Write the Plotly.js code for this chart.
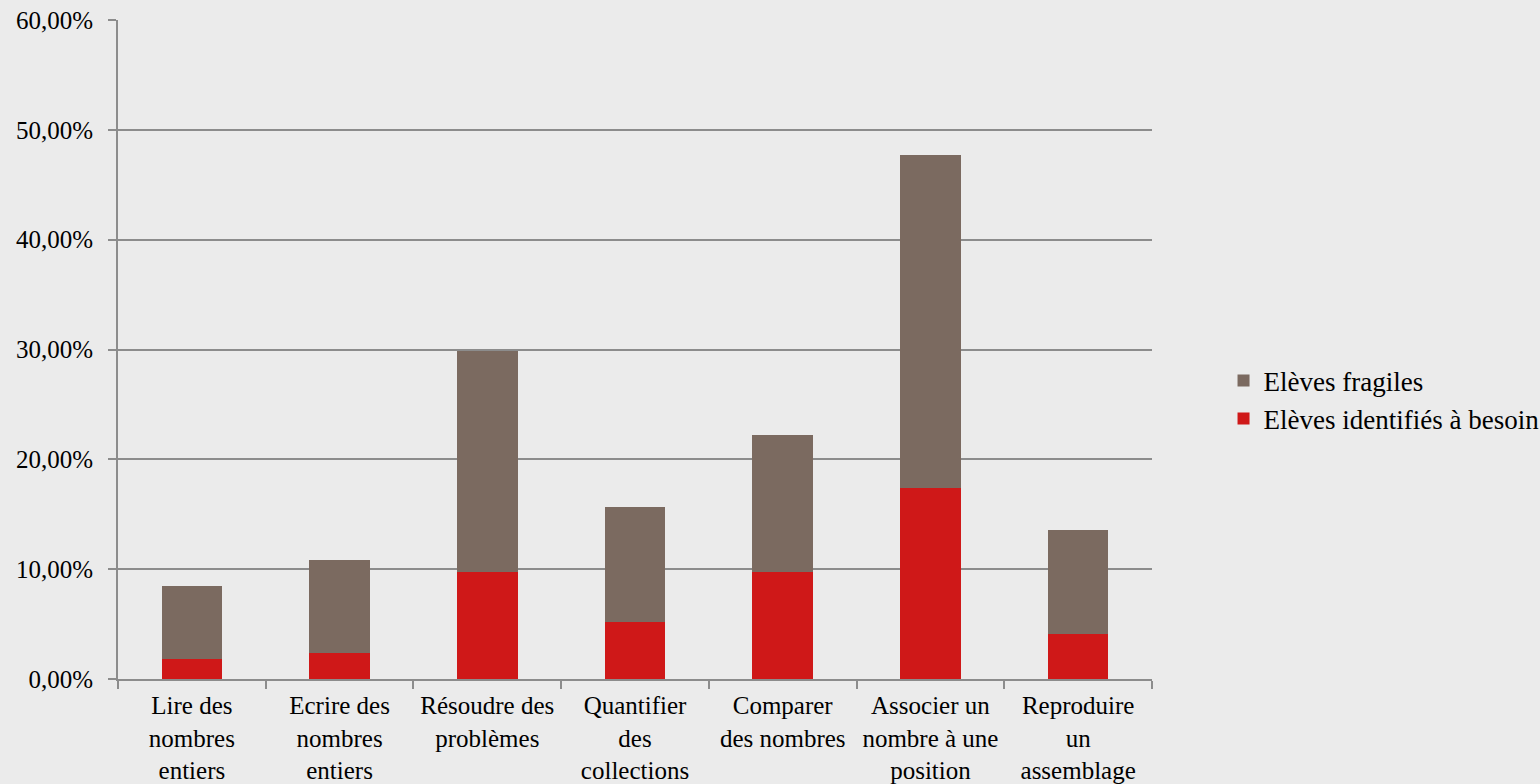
<!DOCTYPE html>
<html>
<head>
<meta charset="utf-8">
<script src="https://cdn.plot.ly/plotly-3.0.1.min.js"></script>
<style>html,body{margin:0;padding:0;background:#ebebeb;}</style>
</head>
<body>
<div id="chart" style="width:1540px;height:784px;"></div>
<script>
const categories = [
  "Lire des<br>nombres<br>entiers",
  "Ecrire des<br>nombres<br>entiers",
  "Résoudre des<br>problèmes",
  "Quantifier<br>des<br>collections",
  "Comparer<br>des nombres",
  "Associer un<br>nombre à une<br>position",
  "Reproduire<br>un<br>assemblage"
];
const besoin = [0.0182, 0.0237, 0.0974, 0.0519, 0.0974, 0.174, 0.041];
const fragiles = [0.0665, 0.0847, 0.2013, 0.1047, 0.1246, 0.303, 0.0947];
const seriesNames = ["Elèves identifiés à besoin", "Elèves fragiles"];

const traces = [
  {type:'bar', x:categories, y:besoin, name:seriesNames[0],
   marker:{color:'#cf1818', line:{width:0}}},
  {type:'bar', x:categories, y:fragiles, name:seriesNames[1],
   marker:{color:'#7b6a60', line:{width:0}}}
];

const FONT = 'Times New Roman, Liberation Serif, serif';

const layout = {
  width:1540, height:784,
  paper_bgcolor:'#ebebeb', plot_bgcolor:'rgba(0,0,0,0)',
  margin:{l:118, r:388, t:20, b:105},
  barmode:'stack', bargap:0.59,
  separators:', ',
  font:{family:FONT, size:25, color:'#000'},
  xaxis:{
    showgrid:false, showline:true, linecolor:'#8c8c8c', linewidth:2,
    ticks:'outside', tickson:'boundaries', ticklen:8, tickcolor:'#8c8c8c', tickwidth:2,
    tickangle:0, tickfont:{family:FONT, size:25}, automargin:false, ticklabelstandoff:3
  },
  yaxis:{
    range:[0,0.6], dtick:0.1, tickformat:'.2%',
    showgrid:true, gridcolor:'#8c8c8c', gridwidth:2,
    showline:true, linecolor:'#8c8c8c', linewidth:2,
    ticks:'outside', ticklen:8, tickcolor:'#8c8c8c', tickwidth:2,
    zeroline:false, tickfont:{family:FONT, size:25}, automargin:false, ticklabelstandoff:10
  },
  legend:{
    xref:'container', yref:'container',
    x:0.7945, xanchor:'left', y:0.49, yanchor:'middle',
    traceorder:'reversed', font:{family:FONT, size:27}, bgcolor:'rgba(0,0,0,0)',
    itemwidth:30
  },
  showlegend:true
};

Plotly.newPlot('chart', traces, layout, {displayModeBar:false, staticPlot:true});
</script>
</body>
</html>
